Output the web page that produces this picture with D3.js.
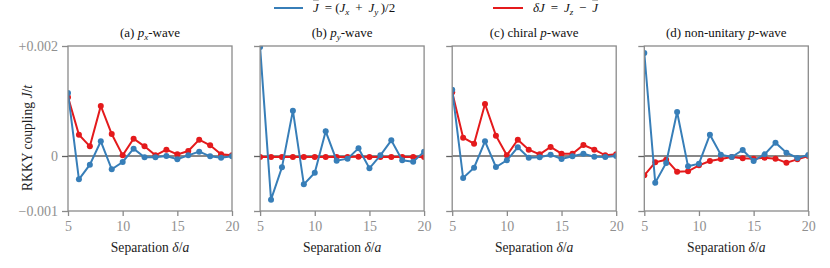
<!DOCTYPE html>
<html lang="en">
<head>
  <meta charset="UTF-8">
  <script src="https://cdn.jsdelivr.net/npm/d3@7"></script>
  <title>RKKY coupling</title>
  <style>
    body { margin: 0; background: #fff; }
    text { font-family: "Liberation Serif", "Times New Roman", "DejaVu Serif", serif; }
  </style>
</head>
<body>
  <svg width="830" height="268"></svg>
  <script>
    // data (coupling in units of 1e-3 t)
    var separation = [5, 6, 7, 8, 9, 10, 11, 12, 13, 14, 15, 16, 17, 18, 19, 20];
    var panelTitles = ["(a)", "(b)", "(c) chiral", "(d) non-unitary"];
    var jBarPx = [1.145, -0.424, -0.158, 0.267, -0.242, -0.109, 0.133, -0.024, -0.024, 0.0, -0.060, 0.012, 0.079, -0.006, -0.030, -0.006];
    var dJPx = [1.07, 0.388, 0.176, 0.909, 0.40, 0.012, 0.315, 0.176, 0.012, 0.115, 0.030, 0.090, 0.297, 0.194, 0.030, 0.012];
    var jBarPy = [1.98, -0.794, -0.206, 0.824, -0.515, -0.303, 0.448, -0.085, -0.048, 0.139, -0.224, 0.012, 0.285, -0.079, -0.103, 0.079];
    var dJPy = [-0.018, -0.018, -0.016, -0.017, -0.018, -0.017, -0.016, -0.017, -0.016, -0.015, -0.017, -0.016, -0.017, -0.018, -0.017, -0.016];
    var jBarChiral = [1.206, -0.40, -0.212, 0.267, -0.20, -0.079, 0.158, -0.030, -0.024, 0.024, -0.055, -0.006, 0.042, -0.012, -0.018, 0.0];
    var dJChiral = [1.16, 0.333, 0.224, 0.945, 0.37, 0.012, 0.297, 0.115, 0.030, 0.164, 0.042, 0.042, 0.20, 0.115, 0.012, 0.030];
    var jBarNonUnitary = [1.873, -0.485, -0.127, 0.80, -0.188, -0.139, 0.388, 0.024, -0.018, 0.109, -0.091, 0.030, 0.242, 0.060, -0.036, 0.018];
    var dJNonUnitary = [-0.352, -0.115, -0.067, -0.285, -0.279, -0.170, -0.091, -0.055, -0.018, -0.042, -0.048, -0.030, -0.048, -0.121, -0.061, 0.0];
    var xTicks = [5, 10, 15, 20];
    var yTicks = [2, 0, -1];
    var yTickLabels = ["+0.002", "0", "\u22120.001"];

    var panels = [
      { title: panelTitles[0], sub: "x", jBar: jBarPx, dJ: dJPx },
      { title: panelTitles[1], sub: "y", jBar: jBarPy, dJ: dJPy },
      { title: panelTitles[2], sub: null, jBar: jBarChiral, dJ: dJChiral },
      { title: panelTitles[3], sub: null, jBar: jBarNonUnitary, dJ: dJNonUnitary }
    ];

    var blue = "#377eb8", red = "#e41a1c";
    var spineColor = "#8a8a8a", tickText = "#909090";

    var svg = d3.select("svg");
    var marge = { top: 46, left: 68 };
    var pw = 164, ph = 165, gap = 192.1;

    var x = d3.scaleLinear().domain([5, 20]).range([0, pw]);
    var y = d3.scaleLinear().domain([-1, 2]).range([ph, 0]);

    var line = d3.line()
      .x((d, i) => x(separation[i]))
      .y(d => y(d));

    panels.forEach(function (p, k) {
      var g = svg.append("g")
        .attr("transform", `translate(${marge.left + k * gap},${marge.top})`);

      g.append("clipPath").attr("id", "clip" + k)
        .append("rect").attr("width", pw).attr("height", ph);

      // title
      var t = g.append("text")
        .attr("x", pw / 2).attr("y", -9)
        .attr("text-anchor", "middle")
        .attr("font-size", 13)
        .attr("fill", "#111");
      t.append("tspan").text(p.title + " ");
      t.append("tspan").attr("font-style", "italic").text("p");
      if (p.sub) {
        t.append("tspan").attr("font-style", "italic").attr("font-size", 9)
          .attr("dy", 3).text(p.sub);
        t.append("tspan").attr("dy", -3).text("-wave");
      } else {
        t.append("tspan").text("-wave");
      }

      // zero line
      g.append("line")
        .attr("x1", 0).attr("x2", pw)
        .attr("y1", y(0)).attr("y2", y(0))
        .attr("stroke", "#606060").attr("stroke-width", 1.3);

      // series
      var data = g.append("g").attr("clip-path", `url(#clip${k})`);
      [[p.dJ, red], [p.jBar, blue]].forEach(function (s) {
        data.append("path")
          .datum(s[0])
          .attr("d", line)
          .attr("fill", "none")
          .attr("stroke", s[1])
          .attr("stroke-width", 2);
        data.selectAll(null)
          .data(s[0])
          .enter()
          .append("circle")
          .attr("cx", (d, i) => x(separation[i]))
          .attr("cy", d => y(d))
          .attr("r", 3)
          .attr("fill", s[1]);
      });

      // spines
      g.append("rect")
        .attr("width", pw).attr("height", ph)
        .attr("fill", "none")
        .attr("stroke", spineColor).attr("stroke-width", 1.3);

      // axes
      var xAxis = g.append("g")
        .attr("transform", `translate(0,${ph})`)
        .call(d3.axisBottom(x).tickValues(xTicks).tickSize(5).tickPadding(5));
      var yAxis = g.append("g")
        .call(d3.axisLeft(y).tickValues(yTicks).tickSize(6).tickPadding(4)
          .tickFormat((d, i) => k === 0 ? yTickLabels[i] : ""));
      [xAxis, yAxis].forEach(function (a) {
        a.select(".domain").remove();
        a.selectAll(".tick line").attr("stroke", spineColor).attr("stroke-width", 1.3);
        a.selectAll(".tick text")
          .attr("fill", tickText)
          .attr("font-size", 14);
      });
      yAxis.selectAll(".tick line").filter(d => d === 0).attr("stroke", "#606060");

      // x label
      var xl = g.append("text")
        .attr("x", pw / 2).attr("y", ph + 41)
        .attr("text-anchor", "middle")
        .attr("font-size", 13.6)
        .attr("fill", "#222");
      xl.append("tspan").text("Separation ");
      xl.append("tspan").attr("font-style", "italic").text("\u03b4");
      xl.append("tspan").text("/");
      xl.append("tspan").attr("font-style", "italic").text("a");
    });

    // y label
    var yl = svg.append("text")
      .attr("transform", "translate(32,138) rotate(-90)")
      .attr("text-anchor", "middle")
      .attr("font-size", 13.6)
      .attr("fill", "#222");
    yl.append("tspan").text("RKKY coupling ");
    yl.append("tspan").attr("font-style", "italic").text("J");
    yl.append("tspan").text("/");
    yl.append("tspan").attr("font-style", "italic").text("t");

    // legend
    var leg = svg.append("g");
    leg.append("line").attr("x1", 274).attr("x2", 303).attr("y1", 8).attr("y2", 8)
      .attr("stroke", blue).attr("stroke-width", 2);
    var l1 = leg.append("text").attr("x", 313).attr("y", 12).attr("font-size", 13).attr("fill", "#111");
    l1.append("tspan").attr("font-style", "italic").attr("text-decoration", "overline").text("J");
    l1.append("tspan").text(" \u2009= (");
    l1.append("tspan").attr("font-style", "italic").text("J");
    l1.append("tspan").attr("font-style", "italic").attr("font-size", 9).attr("dy", 3).text("x");
    l1.append("tspan").attr("dy", -3).text(" \u2009+ \u2009");
    l1.append("tspan").attr("font-style", "italic").text("J");
    l1.append("tspan").attr("font-style", "italic").attr("font-size", 9).attr("dy", 3).text("y");
    l1.append("tspan").attr("dy", -3).text("\u2009)/2");

    leg.append("line").attr("x1", 493).attr("x2", 523).attr("y1", 8).attr("y2", 8)
      .attr("stroke", red).attr("stroke-width", 2);
    var l2 = leg.append("text").attr("x", 533).attr("y", 12).attr("font-size", 13).attr("fill", "#111");
    l2.append("tspan").attr("font-style", "italic").text("\u03b4J");
    l2.append("tspan").text(" \u2009= \u2009");
    l2.append("tspan").attr("font-style", "italic").text("J");
    l2.append("tspan").attr("font-style", "italic").attr("font-size", 9).attr("dy", 3).text("z");
    l2.append("tspan").attr("dy", -3).text(" \u2009\u2212 \u2009");
    l2.append("tspan").attr("font-style", "italic").attr("text-decoration", "overline").text("J");
  </script>
</body>
</html>
